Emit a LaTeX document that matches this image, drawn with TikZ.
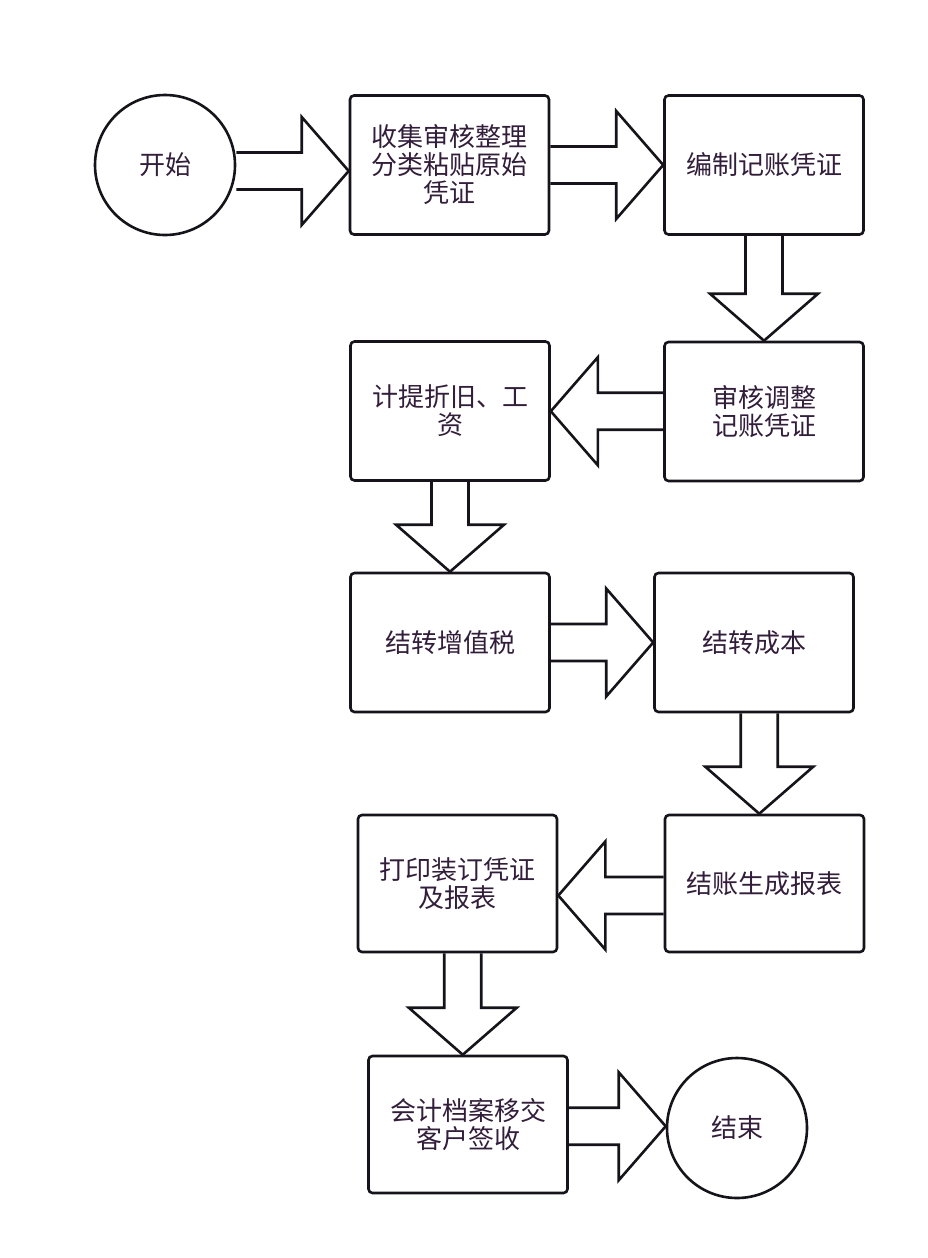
\documentclass[tikz,border=0pt]{standalone}
\usepackage{fontspec}
\newfontfamily\cjk{Noto Sans CJK SC}
\usetikzlibrary{calc}
\usetikzlibrary{positioning}
\definecolor{inkColor}{RGB}{22,20,26}
\definecolor{textColor}{RGB}{50,30,58}
\tikzset{
  stepbox/.style={draw=inkColor, line width=2.6pt, rounded corners=4pt,
    minimum width=199pt, minimum height=139pt, align=center, text=textColor,
    font=\cjk\fontsize{26}{28}\selectfont},
  endpoint/.style={circle, draw=inkColor, line width=2.6pt, minimum size=140pt,
    text=textColor, font=\cjk\fontsize{26}{28}\selectfont},
  fatArrow/.style={draw=inkColor, line width=2.6pt, line join=miter}
}
\def\shaftw{18.5pt}
\def\headw{54pt}
\def\headl{47pt}
% block arrows, optional #1 shifts the arrow across its direction
\newcommand{\arrowRight}[3][0]{%
  \draw[fatArrow] let \p1=(#2.east), \p2=(#3.west), \p3=($(\p1)!0.5!(\p2)+(0,#1)$) in
    (\x1,\y3+\shaftw) -- (\x2-\headl,\y3+\shaftw) -- (\x2-\headl,\y3+\headw) -- (\x2,\y3)
    -- (\x2-\headl,\y3-\headw) -- (\x2-\headl,\y3-\shaftw) -- (\x1,\y3-\shaftw);}
\newcommand{\arrowLeft}[3][0]{%
  \draw[fatArrow] let \p1=(#2.west), \p2=(#3.east), \p3=($(\p1)!0.5!(\p2)+(0,#1)$) in
    (\x1,\y3+\shaftw) -- (\x2+\headl,\y3+\shaftw) -- (\x2+\headl,\y3+\headw) -- (\x2,\y3)
    -- (\x2+\headl,\y3-\headw) -- (\x2+\headl,\y3-\shaftw) -- (\x1,\y3-\shaftw);}
\newcommand{\arrowDown}[3][0]{%
  \draw[fatArrow] let \p1=(#2.south), \p2=(#3.north), \p3=($(\p1)!0.5!(\p2)+(#1,0)$) in
    (\x3+\shaftw,\y1) -- (\x3+\shaftw,\y2+\headl) -- (\x3+\headw,\y2+\headl) -- (\x3,\y2)
    -- (\x3-\headw,\y2+\headl) -- (\x3-\shaftw,\y2+\headl) -- (\x3-\shaftw,\y1);}

\begin{document}
\begin{tikzpicture}[x=1pt,y=-1pt]
  \useasboundingbox[fill=white] (0,0) rectangle (928,1258);
  \node[endpoint] (start) at (165,165) {开始};
  \node[stepbox] (collect) at (449.5,165) {收集审核整理\\分类粘贴原始\\凭证};
  \node[stepbox] (compile) at (764,165) {编制记账凭证};
  \node[stepbox] (review) at (764,411.5) {审核调整\\记账凭证};
  \node[stepbox] (accrue) at (450,411) {计提折旧、工\\资};
  \node[stepbox] (vat) at (450,642.5) {结转增值税};
  \node[stepbox] (cost) at (754,642.5) {结转成本};
  \node[stepbox, minimum height=137pt] (closing) at (764.5,883.5) {结账生成报表};
  \node[stepbox, minimum height=137pt] (print) at (457.5,883.5) {打印装订凭证\\及报表};
  \node[stepbox, minimum height=137pt] (archive) at (468,1124.5) {会计档案移交\\客户签收};
  \node[endpoint] (finish) at (737,1128) {结束};

  \arrowRight[6]{start}{collect}
  \arrowRight{collect}{compile}
  \arrowDown{compile}{review}
  \arrowLeft{review}{accrue}
  \arrowDown{accrue}{vat}
  \arrowRight{vat}{cost}
  \arrowDown{cost}{closing}
  \arrowLeft[12]{closing}{print}
  \arrowDown{print}{archive}
  \arrowRight{archive}{finish}
\end{tikzpicture}
\end{document}
